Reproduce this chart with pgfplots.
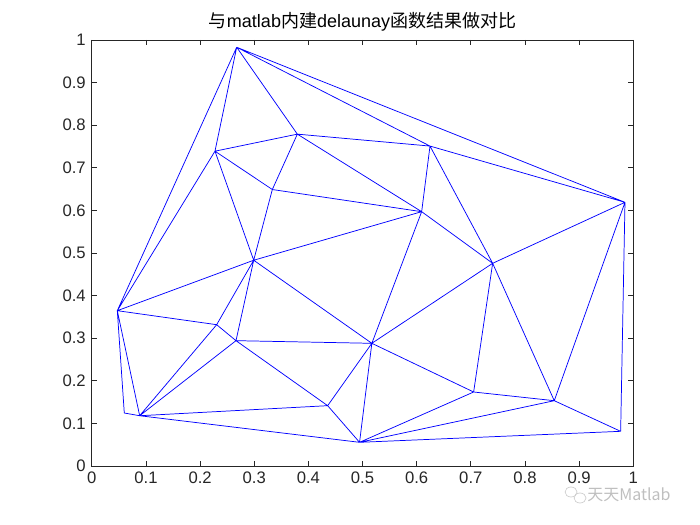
\documentclass[border=0pt]{standalone}
\usepackage{pgfplots}
\pgfplotsset{compat=1.18}
\usepackage{fontspec}
\setmainfont{Liberation Sans}
\newfontfamily\cjk{Noto Sans CJK SC}
\definecolor{mlgray}{rgb}{0.15,0.15,0.15}
\definecolor{mlblue}{rgb}{0,0,1}
\begin{document}
\begin{tikzpicture}
% 1 px = 0.75pt; picture 700x525 px
\path (0pt,0pt) rectangle (525pt,393.75pt);
\begin{axis}[
    at={(68.85pt,44.25pt)}, anchor=south west,
    width=406.1pt, height=319.5pt, scale only axis,
    xmin=0, xmax=1, ymin=0, ymax=1,
    xtick={0,0.1,...,1}, ytick={0,0.1,...,1},
    axis line style={mlgray, line width=0.55pt},
    tick style={mlgray, line width=0.55pt},
    major tick length=3.75pt,
    tick align=inside, xtick pos=both, ytick pos=both,
    ticklabel style={font=\fontsize{12.5}{14}\selectfont, text=mlgray},
    /pgf/number format/assume math mode=true,
    xticklabel style={yshift=-1pt},
    yticklabel style={xshift=-1pt},
    title={\fontsize{13.5}{15}\selectfont{\cjk 与}matlab{\cjk 内建}delaunay{\cjk 函数结果做对比}},
    title style={text=black, yshift=-3pt},
    unbounded coords=jump,
]
\addplot[mlblue, line width=0.55pt] coordinates {
% A
(0.2676,0.983) (0.0471,0.3646) (nan,nan)
(0.2676,0.983) (0.2275,0.739) (nan,nan)
(0.2676,0.983) (0.3796,0.779) (nan,nan)
(0.2676,0.983) (0.6246,0.751) (nan,nan)
(0.2676,0.983) (0.9847,0.619) (nan,nan)
% B
(0.2275,0.739) (0.0471,0.3646) (nan,nan)
(0.2275,0.739) (0.3796,0.779) (nan,nan)
(0.2275,0.739) (0.3334,0.649) (nan,nan)
(0.2275,0.739) (0.299,0.483) (nan,nan)
% C
(0.3796,0.779) (0.3334,0.649) (nan,nan)
(0.3796,0.779) (0.6246,0.751) (nan,nan)
(0.3796,0.779) (0.6092,0.597) (nan,nan)
% D
(0.3334,0.649) (0.299,0.483) (nan,nan)
(0.3334,0.649) (0.6092,0.597) (nan,nan)
% E
(0.299,0.483) (0.6092,0.597) (nan,nan)
(0.299,0.483) (0.0471,0.3646) (nan,nan)
(0.299,0.483) (0.2306,0.3317) (nan,nan)
(0.299,0.483) (0.2663,0.2942) (nan,nan)
(0.299,0.483) (0.5172,0.288) (nan,nan)
% F
(0.6246,0.751) (0.6092,0.597) (nan,nan)
(0.6246,0.751) (0.9847,0.619) (nan,nan)
(0.6246,0.751) (0.7403,0.4758) (nan,nan)
% G
(0.6092,0.597) (0.7403,0.4758) (nan,nan)
(0.6092,0.597) (0.5172,0.288) (nan,nan)
% H
(0.9847,0.619) (0.7403,0.4758) (nan,nan)
(0.9847,0.619) (0.9767,0.0814) (nan,nan)
(0.9847,0.619) (0.8541,0.1533) (nan,nan)
% I
(0.0471,0.3646) (0.2306,0.3317) (nan,nan)
(0.0471,0.3646) (0.060,0.1244) (nan,nan)
(0.0471,0.3646) (0.0884,0.118) (nan,nan)
% J
(0.2306,0.3317) (0.2663,0.2942) (nan,nan)
(0.2306,0.3317) (0.0884,0.118) (nan,nan)
% K
(0.2663,0.2942) (0.5172,0.288) (nan,nan)
(0.2663,0.2942) (0.0884,0.118) (nan,nan)
(0.2663,0.2942) (0.4356,0.1416) (nan,nan)
% L
(0.5172,0.288) (0.4356,0.1416) (nan,nan)
(0.5172,0.288) (0.4945,0.0556) (nan,nan)
(0.5172,0.288) (0.7052,0.1737) (nan,nan)
(0.5172,0.288) (0.7403,0.4758) (nan,nan)
% M, N, O
(0.060,0.1244) (0.0884,0.118) (nan,nan)
(0.0884,0.118) (0.4356,0.1416) (nan,nan)
(0.0884,0.118) (0.4945,0.0556) (nan,nan)
(0.4356,0.1416) (0.4945,0.0556) (nan,nan)
% P
(0.4945,0.0556) (0.7052,0.1737) (nan,nan)
(0.4945,0.0556) (0.8541,0.1533) (nan,nan)
(0.4945,0.0556) (0.9767,0.0814) (nan,nan)
% Q, R, S
(0.7403,0.4758) (0.7052,0.1737) (nan,nan)
(0.7403,0.4758) (0.8541,0.1533) (nan,nan)
(0.7052,0.1737) (0.8541,0.1533) (nan,nan)
(0.8541,0.1533) (0.9767,0.0814)
};
\end{axis}
% watermark
\begin{scope}[gray!40, line width=0.5pt]
\draw (428.25pt,24.75pt) ellipse (4.5pt and 3.75pt);
\draw (435pt,20.25pt) ellipse (4.5pt and 3.75pt);
\end{scope}
\node[anchor=west, text=gray!50, font=\cjk\fontsize{12}{13}\selectfont, inner sep=0pt] at (440.25pt,22.5pt) {天天Matlab};
\end{tikzpicture}
\end{document}
